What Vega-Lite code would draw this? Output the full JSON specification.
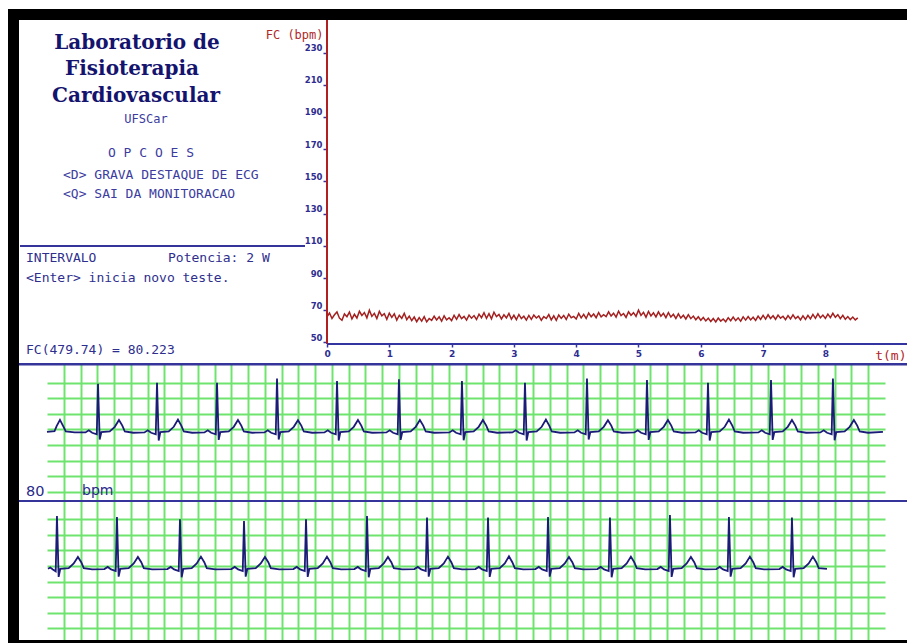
{
"$schema": "https://vega.github.io/schema/vega-lite/v6.json",
"background": "white",
"padding": {"left": 8, "top": 8, "right": 0, "bottom": 0},
"config": {"view": {"stroke": null}, "concat": {"spacing": 0}},
"datasets": {
"hr": [{"t":0,"fc":66.0},{"t":0.04,"fc":68.3},{"t":0.08,"fc":64.9},{"t":0.12,"fc":67.2},{"t":0.16,"fc":69.0},{"t":0.2,"fc":65.1},{"t":0.24,"fc":63.8},{"t":0.28,"fc":67.7},{"t":0.32,"fc":66.0},{"t":0.36,"fc":68.9},{"t":0.4,"fc":64.6},{"t":0.44,"fc":67.5},{"t":0.48,"fc":65.2},{"t":0.52,"fc":69.4},{"t":0.56,"fc":66.8},{"t":0.6,"fc":68.6},{"t":0.64,"fc":65.3},{"t":0.68,"fc":70.0},{"t":0.72,"fc":66.2},{"t":0.76,"fc":68.1},{"t":0.8,"fc":64.9},{"t":0.84,"fc":69.3},{"t":0.88,"fc":66.5},{"t":0.92,"fc":67.9},{"t":0.96,"fc":64.4},{"t":1.0,"fc":68.2},{"t":1.04,"fc":65.6},{"t":1.08,"fc":67.8},{"t":1.12,"fc":63.9},{"t":1.16,"fc":66.9},{"t":1.2,"fc":65.0},{"t":1.24,"fc":68.1},{"t":1.28,"fc":64.2},{"t":1.32,"fc":66.4},{"t":1.36,"fc":63.6},{"t":1.4,"fc":65.8},{"t":1.44,"fc":62.9},{"t":1.48,"fc":65.5},{"t":1.52,"fc":63.3},{"t":1.56,"fc":66.0},{"t":1.6,"fc":62.8},{"t":1.64,"fc":64.9},{"t":1.68,"fc":63.7},{"t":1.72,"fc":66.3},{"t":1.76,"fc":64.0},{"t":1.8,"fc":65.9},{"t":1.84,"fc":63.2},{"t":1.88,"fc":66.6},{"t":1.92,"fc":64.1},{"t":1.96,"fc":65.4},{"t":2.0,"fc":63.6},{"t":2.04,"fc":66.9},{"t":2.08,"fc":64.4},{"t":2.12,"fc":67.3},{"t":2.16,"fc":64.8},{"t":2.2,"fc":66.2},{"t":2.24,"fc":63.9},{"t":2.28,"fc":67.0},{"t":2.32,"fc":65.1},{"t":2.36,"fc":66.7},{"t":2.4,"fc":64.3},{"t":2.44,"fc":67.6},{"t":2.48,"fc":65.4},{"t":2.52,"fc":68.5},{"t":2.56,"fc":65.0},{"t":2.6,"fc":67.9},{"t":2.64,"fc":64.7},{"t":2.68,"fc":68.8},{"t":2.72,"fc":66.1},{"t":2.76,"fc":67.4},{"t":2.8,"fc":64.6},{"t":2.84,"fc":67.2},{"t":2.88,"fc":65.3},{"t":2.92,"fc":68.0},{"t":2.96,"fc":64.5},{"t":3.0,"fc":66.9},{"t":3.04,"fc":64.2},{"t":3.08,"fc":67.4},{"t":3.12,"fc":64.8},{"t":3.16,"fc":66.3},{"t":3.2,"fc":63.9},{"t":3.24,"fc":66.8},{"t":3.28,"fc":64.4},{"t":3.32,"fc":67.0},{"t":3.36,"fc":65.2},{"t":3.4,"fc":66.5},{"t":3.44,"fc":63.8},{"t":3.48,"fc":66.1},{"t":3.52,"fc":64.9},{"t":3.56,"fc":67.3},{"t":3.6,"fc":64.0},{"t":3.64,"fc":66.6},{"t":3.68,"fc":63.7},{"t":3.72,"fc":67.1},{"t":3.76,"fc":65.0},{"t":3.8,"fc":66.8},{"t":3.84,"fc":64.3},{"t":3.88,"fc":67.6},{"t":3.92,"fc":65.4},{"t":3.96,"fc":66.2},{"t":4.0,"fc":64.6},{"t":4.04,"fc":68.0},{"t":4.08,"fc":65.3},{"t":4.12,"fc":67.5},{"t":4.16,"fc":64.9},{"t":4.2,"fc":68.3},{"t":4.24,"fc":66.0},{"t":4.28,"fc":67.7},{"t":4.32,"fc":65.4},{"t":4.36,"fc":68.6},{"t":4.4,"fc":65.9},{"t":4.44,"fc":67.3},{"t":4.48,"fc":66.1},{"t":4.52,"fc":69.0},{"t":4.56,"fc":66.4},{"t":4.6,"fc":68.2},{"t":4.64,"fc":65.8},{"t":4.68,"fc":69.4},{"t":4.72,"fc":66.7},{"t":4.76,"fc":68.0},{"t":4.8,"fc":65.6},{"t":4.84,"fc":69.1},{"t":4.88,"fc":66.9},{"t":4.92,"fc":68.5},{"t":4.96,"fc":66.2},{"t":5.0,"fc":70.1},{"t":5.04,"fc":66.8},{"t":5.08,"fc":68.7},{"t":5.12,"fc":65.7},{"t":5.16,"fc":69.3},{"t":5.2,"fc":66.5},{"t":5.24,"fc":68.4},{"t":5.28,"fc":65.9},{"t":5.32,"fc":69.0},{"t":5.36,"fc":66.3},{"t":5.4,"fc":68.1},{"t":5.44,"fc":65.4},{"t":5.48,"fc":68.6},{"t":5.52,"fc":65.8},{"t":5.56,"fc":67.5},{"t":5.6,"fc":64.9},{"t":5.64,"fc":67.8},{"t":5.68,"fc":65.2},{"t":5.72,"fc":66.9},{"t":5.76,"fc":64.6},{"t":5.8,"fc":67.3},{"t":5.84,"fc":64.8},{"t":5.88,"fc":66.4},{"t":5.92,"fc":64.1},{"t":5.96,"fc":66.0},{"t":6.0,"fc":63.8},{"t":6.04,"fc":65.5},{"t":6.08,"fc":63.4},{"t":6.12,"fc":65.1},{"t":6.16,"fc":63.0},{"t":6.2,"fc":64.9},{"t":6.24,"fc":62.8},{"t":6.28,"fc":65.2},{"t":6.32,"fc":63.3},{"t":6.36,"fc":64.6},{"t":6.4,"fc":62.9},{"t":6.44,"fc":65.4},{"t":6.48,"fc":63.5},{"t":6.52,"fc":65.8},{"t":6.56,"fc":63.6},{"t":6.6,"fc":65.3},{"t":6.64,"fc":63.2},{"t":6.68,"fc":65.9},{"t":6.72,"fc":63.9},{"t":6.76,"fc":66.1},{"t":6.8,"fc":64.0},{"t":6.84,"fc":65.7},{"t":6.88,"fc":63.7},{"t":6.92,"fc":66.4},{"t":6.96,"fc":64.3},{"t":7.0,"fc":66.8},{"t":7.04,"fc":64.5},{"t":7.08,"fc":67.2},{"t":7.12,"fc":64.9},{"t":7.16,"fc":66.6},{"t":7.2,"fc":64.4},{"t":7.24,"fc":67.0},{"t":7.28,"fc":65.1},{"t":7.32,"fc":66.3},{"t":7.36,"fc":64.2},{"t":7.4,"fc":66.7},{"t":7.44,"fc":64.6},{"t":7.48,"fc":67.1},{"t":7.52,"fc":64.8},{"t":7.56,"fc":66.2},{"t":7.6,"fc":64.0},{"t":7.64,"fc":66.5},{"t":7.68,"fc":64.3},{"t":7.72,"fc":66.9},{"t":7.76,"fc":64.7},{"t":7.8,"fc":67.4},{"t":7.84,"fc":65.0},{"t":7.88,"fc":67.8},{"t":7.92,"fc":65.3},{"t":7.96,"fc":67.0},{"t":8.0,"fc":64.9},{"t":8.04,"fc":67.6},{"t":8.08,"fc":65.4},{"t":8.12,"fc":68.1},{"t":8.16,"fc":65.6},{"t":8.2,"fc":67.3},{"t":8.24,"fc":64.8},{"t":8.28,"fc":66.9},{"t":8.32,"fc":64.4},{"t":8.36,"fc":66.1},{"t":8.4,"fc":64.2},{"t":8.44,"fc":65.8},{"t":8.48,"fc":64.0},{"t":8.52,"fc":65.3}],
"ecg1": [{"t":0,"mv":-0.08},{"t":0.09,"mv":-0.06},{"t":0.115,"mv":0.1},{"t":0.155,"mv":0.3},{"t":0.19,"mv":0.12},{"t":0.225,"mv":-0.07},{"t":0.33,"mv":-0.1},
{"t":0.459,"mv":-0.1},{"t":0.499,"mv":-0.03},{"t":0.539,"mv":-0.11},{"t":0.594,"mv":-0.16},{"t":0.609,"mv":1.46},{"t":0.629,"mv":-0.33},{"t":0.649,"mv":-0.09},{"t":0.749,"mv":-0.07},{"t":0.809,"mv":0.08},{"t":0.859,"mv":0.3},{"t":0.899,"mv":0.12},{"t":0.929,"mv":-0.07},{"t":1.029,"mv":-0.11},
{"t":1.163,"mv":-0.1},{"t":1.203,"mv":-0.03},{"t":1.243,"mv":-0.11},{"t":1.298,"mv":-0.16},{"t":1.313,"mv":1.49},{"t":1.333,"mv":-0.36},{"t":1.353,"mv":-0.09},{"t":1.453,"mv":-0.07},{"t":1.513,"mv":0.08},{"t":1.563,"mv":0.31},{"t":1.603,"mv":0.12},{"t":1.633,"mv":-0.07},{"t":1.733,"mv":-0.11},
{"t":1.879,"mv":-0.1},{"t":1.919,"mv":-0.03},{"t":1.959,"mv":-0.11},{"t":2.014,"mv":-0.16},{"t":2.029,"mv":1.49},{"t":2.049,"mv":-0.34},{"t":2.069,"mv":-0.09},{"t":2.169,"mv":-0.07},{"t":2.229,"mv":0.08},{"t":2.279,"mv":0.3},{"t":2.319,"mv":0.12},{"t":2.349,"mv":-0.07},{"t":2.449,"mv":-0.11},
{"t":2.595,"mv":-0.1},{"t":2.635,"mv":-0.03},{"t":2.675,"mv":-0.11},{"t":2.73,"mv":-0.16},{"t":2.745,"mv":1.63},{"t":2.765,"mv":-0.33},{"t":2.785,"mv":-0.09},{"t":2.885,"mv":-0.07},{"t":2.945,"mv":0.08},{"t":2.995,"mv":0.29},{"t":3.035,"mv":0.12},{"t":3.065,"mv":-0.07},{"t":3.165,"mv":-0.11},
{"t":3.311,"mv":-0.1},{"t":3.351,"mv":-0.03},{"t":3.391,"mv":-0.11},{"t":3.446,"mv":-0.16},{"t":3.461,"mv":1.55},{"t":3.481,"mv":-0.36},{"t":3.501,"mv":-0.09},{"t":3.601,"mv":-0.07},{"t":3.661,"mv":0.08},{"t":3.711,"mv":0.3},{"t":3.751,"mv":0.12},{"t":3.781,"mv":-0.07},{"t":3.881,"mv":-0.11},
{"t":4.05,"mv":-0.1},{"t":4.09,"mv":-0.03},{"t":4.13,"mv":-0.11},{"t":4.185,"mv":-0.16},{"t":4.2,"mv":1.6},{"t":4.22,"mv":-0.34},{"t":4.24,"mv":-0.09},{"t":4.34,"mv":-0.07},{"t":4.4,"mv":0.08},{"t":4.45,"mv":0.3},{"t":4.49,"mv":0.12},{"t":4.52,"mv":-0.07},{"t":4.62,"mv":-0.11},
{"t":4.802,"mv":-0.1},{"t":4.842,"mv":-0.03},{"t":4.882,"mv":-0.11},{"t":4.937,"mv":-0.16},{"t":4.952,"mv":1.55},{"t":4.972,"mv":-0.35},{"t":4.992,"mv":-0.09},{"t":5.092,"mv":-0.07},{"t":5.152,"mv":0.08},{"t":5.202,"mv":0.3},{"t":5.242,"mv":0.12},{"t":5.272,"mv":-0.07},{"t":5.372,"mv":-0.11},
{"t":5.554,"mv":-0.1},{"t":5.594,"mv":-0.03},{"t":5.634,"mv":-0.11},{"t":5.689,"mv":-0.16},{"t":5.704,"mv":1.49},{"t":5.724,"mv":-0.36},{"t":5.744,"mv":-0.09},{"t":5.844,"mv":-0.07},{"t":5.904,"mv":0.08},{"t":5.954,"mv":0.31},{"t":5.994,"mv":0.12},{"t":6.024,"mv":-0.07},{"t":6.124,"mv":-0.11},
{"t":6.294,"mv":-0.1},{"t":6.334,"mv":-0.03},{"t":6.374,"mv":-0.11},{"t":6.429,"mv":-0.16},{"t":6.444,"mv":1.63},{"t":6.464,"mv":-0.33},{"t":6.484,"mv":-0.09},{"t":6.584,"mv":-0.07},{"t":6.644,"mv":0.08},{"t":6.694,"mv":0.29},{"t":6.734,"mv":0.12},{"t":6.764,"mv":-0.07},{"t":6.864,"mv":-0.11},
{"t":7.01,"mv":-0.1},{"t":7.05,"mv":-0.03},{"t":7.09,"mv":-0.11},{"t":7.145,"mv":-0.16},{"t":7.16,"mv":1.58},{"t":7.18,"mv":-0.34},{"t":7.2,"mv":-0.09},{"t":7.3,"mv":-0.07},{"t":7.36,"mv":0.08},{"t":7.41,"mv":0.3},{"t":7.45,"mv":0.12},{"t":7.48,"mv":-0.07},{"t":7.58,"mv":-0.11},
{"t":7.738,"mv":-0.1},{"t":7.778,"mv":-0.03},{"t":7.818,"mv":-0.11},{"t":7.873,"mv":-0.16},{"t":7.888,"mv":1.49},{"t":7.908,"mv":-0.36},{"t":7.928,"mv":-0.09},{"t":8.028,"mv":-0.07},{"t":8.088,"mv":0.08},{"t":8.138,"mv":0.31},{"t":8.178,"mv":0.12},{"t":8.208,"mv":-0.07},{"t":8.308,"mv":-0.11},
{"t":8.49,"mv":-0.1},{"t":8.53,"mv":-0.03},{"t":8.57,"mv":-0.11},{"t":8.625,"mv":-0.16},{"t":8.64,"mv":1.58},{"t":8.66,"mv":-0.34},{"t":8.68,"mv":-0.09},{"t":8.78,"mv":-0.07},{"t":8.84,"mv":0.08},{"t":8.89,"mv":0.3},{"t":8.93,"mv":0.12},{"t":8.96,"mv":-0.07},{"t":9.06,"mv":-0.11},
{"t":9.229,"mv":-0.1},{"t":9.269,"mv":-0.03},{"t":9.309,"mv":-0.11},{"t":9.364,"mv":-0.16},{"t":9.379,"mv":1.63},{"t":9.399,"mv":-0.35},{"t":9.419,"mv":-0.09},{"t":9.519,"mv":-0.07},{"t":9.579,"mv":0.08},{"t":9.629,"mv":0.3},{"t":9.669,"mv":0.12},{"t":9.699,"mv":-0.07},{"t":9.799,"mv":-0.11},{"t":9.976,"mv":-0.08}],
"ecg2": [{"t":0.012,"mv":-0.09},{"t":0.04,"mv":-0.05},{"t":0.07,"mv":-0.11},{"t":0.104,"mv":-0.17},{"t":0.119,"mv":1.6},{"t":0.139,"mv":-0.35},{"t":0.159,"mv":-0.09},{"t":0.259,"mv":-0.07},{"t":0.319,"mv":0.08},{"t":0.369,"mv":0.29},{"t":0.409,"mv":0.12},{"t":0.439,"mv":-0.07},{"t":0.539,"mv":-0.11},
{"t":0.685,"mv":-0.1},{"t":0.725,"mv":-0.03},{"t":0.765,"mv":-0.11},{"t":0.82,"mv":-0.16},{"t":0.835,"mv":1.57},{"t":0.855,"mv":-0.34},{"t":0.875,"mv":-0.09},{"t":0.975,"mv":-0.07},{"t":1.035,"mv":0.08},{"t":1.085,"mv":0.29},{"t":1.125,"mv":0.12},{"t":1.155,"mv":-0.07},{"t":1.255,"mv":-0.11},
{"t":1.437,"mv":-0.1},{"t":1.477,"mv":-0.03},{"t":1.517,"mv":-0.11},{"t":1.572,"mv":-0.16},{"t":1.587,"mv":1.5},{"t":1.607,"mv":-0.36},{"t":1.627,"mv":-0.09},{"t":1.727,"mv":-0.07},{"t":1.787,"mv":0.08},{"t":1.837,"mv":0.3},{"t":1.877,"mv":0.12},{"t":1.907,"mv":-0.07},{"t":2.007,"mv":-0.11},
{"t":2.201,"mv":-0.1},{"t":2.241,"mv":-0.03},{"t":2.281,"mv":-0.11},{"t":2.336,"mv":-0.16},{"t":2.351,"mv":1.44},{"t":2.371,"mv":-0.34},{"t":2.391,"mv":-0.09},{"t":2.491,"mv":-0.07},{"t":2.551,"mv":0.08},{"t":2.601,"mv":0.29},{"t":2.641,"mv":0.12},{"t":2.671,"mv":-0.07},{"t":2.771,"mv":-0.11},
{"t":2.941,"mv":-0.1},{"t":2.981,"mv":-0.03},{"t":3.021,"mv":-0.11},{"t":3.076,"mv":-0.16},{"t":3.091,"mv":1.5},{"t":3.111,"mv":-0.35},{"t":3.131,"mv":-0.09},{"t":3.231,"mv":-0.07},{"t":3.291,"mv":0.08},{"t":3.341,"mv":0.3},{"t":3.381,"mv":0.12},{"t":3.411,"mv":-0.07},{"t":3.511,"mv":-0.11},
{"t":3.669,"mv":-0.1},{"t":3.709,"mv":-0.03},{"t":3.749,"mv":-0.11},{"t":3.804,"mv":-0.16},{"t":3.819,"mv":1.6},{"t":3.839,"mv":-0.36},{"t":3.859,"mv":-0.09},{"t":3.959,"mv":-0.07},{"t":4.019,"mv":0.08},{"t":4.069,"mv":0.29},{"t":4.109,"mv":0.12},{"t":4.139,"mv":-0.07},{"t":4.239,"mv":-0.11},
{"t":4.385,"mv":-0.1},{"t":4.425,"mv":-0.03},{"t":4.465,"mv":-0.11},{"t":4.52,"mv":-0.16},{"t":4.535,"mv":1.55},{"t":4.555,"mv":-0.34},{"t":4.575,"mv":-0.09},{"t":4.675,"mv":-0.07},{"t":4.735,"mv":0.08},{"t":4.785,"mv":0.3},{"t":4.825,"mv":0.12},{"t":4.855,"mv":-0.07},{"t":4.955,"mv":-0.11},
{"t":5.113,"mv":-0.1},{"t":5.153,"mv":-0.03},{"t":5.193,"mv":-0.11},{"t":5.248,"mv":-0.16},{"t":5.263,"mv":1.55},{"t":5.283,"mv":-0.35},{"t":5.303,"mv":-0.09},{"t":5.403,"mv":-0.07},{"t":5.463,"mv":0.08},{"t":5.513,"mv":0.31},{"t":5.553,"mv":0.12},{"t":5.583,"mv":-0.07},{"t":5.683,"mv":-0.11},
{"t":5.829,"mv":-0.1},{"t":5.869,"mv":-0.03},{"t":5.909,"mv":-0.11},{"t":5.964,"mv":-0.16},{"t":5.979,"mv":1.57},{"t":5.999,"mv":-0.34},{"t":6.019,"mv":-0.09},{"t":6.119,"mv":-0.07},{"t":6.179,"mv":0.08},{"t":6.229,"mv":0.29},{"t":6.269,"mv":0.12},{"t":6.299,"mv":-0.07},{"t":6.399,"mv":-0.11},
{"t":6.568,"mv":-0.1},{"t":6.608,"mv":-0.03},{"t":6.648,"mv":-0.11},{"t":6.703,"mv":-0.16},{"t":6.718,"mv":1.55},{"t":6.738,"mv":-0.36},{"t":6.758,"mv":-0.09},{"t":6.858,"mv":-0.07},{"t":6.918,"mv":0.08},{"t":6.968,"mv":0.3},{"t":7.008,"mv":0.12},{"t":7.038,"mv":-0.07},{"t":7.138,"mv":-0.11},
{"t":7.284,"mv":-0.1},{"t":7.324,"mv":-0.03},{"t":7.364,"mv":-0.11},{"t":7.419,"mv":-0.16},{"t":7.434,"mv":1.63},{"t":7.454,"mv":-0.35},{"t":7.474,"mv":-0.09},{"t":7.574,"mv":-0.07},{"t":7.634,"mv":0.08},{"t":7.684,"mv":0.29},{"t":7.724,"mv":0.12},{"t":7.754,"mv":-0.07},{"t":7.854,"mv":-0.11},
{"t":7.988,"mv":-0.1},{"t":8.028,"mv":-0.03},{"t":8.068,"mv":-0.11},{"t":8.123,"mv":-0.16},{"t":8.138,"mv":1.57},{"t":8.158,"mv":-0.34},{"t":8.178,"mv":-0.09},{"t":8.278,"mv":-0.07},{"t":8.338,"mv":0.08},{"t":8.388,"mv":0.3},{"t":8.428,"mv":0.12},{"t":8.458,"mv":-0.07},{"t":8.558,"mv":-0.11},
{"t":8.74,"mv":-0.1},{"t":8.78,"mv":-0.03},{"t":8.82,"mv":-0.11},{"t":8.875,"mv":-0.16},{"t":8.89,"mv":1.55},{"t":8.91,"mv":-0.36},{"t":8.93,"mv":-0.09},{"t":9.03,"mv":-0.07},{"t":9.09,"mv":0.08},{"t":9.14,"mv":0.3},{"t":9.18,"mv":0.12},{"t":9.21,"mv":-0.07},{"t":9.308,"mv":-0.09}]
},
"bounds": "flush",
"spacing": 0,
"hconcat": [
{"width": 11, "height": 635, "view": {"fill": "black", "stroke": null}, "data": {"values": [{}]}, "mark": {"type": "text", "text": ""}, "encoding": {}},
{"vconcat": [
 {"width": 888, "height": 11, "view": {"fill": "black", "stroke": null}, "data": {"values": [{}]}, "mark": {"type": "text", "text": ""}, "encoding": {}},
 {"width": 888, "height": 343,
  "resolve": {"scale": {"x": "independent", "y": "independent"}, "axis": {"x": "independent", "y": "independent"}},
  "layer": [
   {"layer": [
    {"data": {"name": "hr"}, "mark": {"type": "line", "color": "#a32020", "strokeWidth": 1.5},
     "encoding": {
      "x": {"field": "t", "type": "quantitative", "scale": {"domain": [-4.944, 9.31], "nice": false, "zero": false},
        "axis": {"orient": "bottom", "values": [0,1,2,3,4,5,6,7,8], "tickCount": 20, "format": "d", "offset": -19, "grid": false, "domain": false, "tickColor": "#3434a0", "tickSize": 3, "tickWidth": 1.5, "labelColor": "#2e2e90", "labelFont": "DejaVu Sans", "labelFontSize": 9, "labelFontWeight": "bold", "labelPadding": 2, "labelFlush": false, "labelOverlap": false,
          "title": "t(m)", "titleColor": "#b02828", "titleFont": "DejaVu Sans Mono", "titleFontSize": 13, "titleFontWeight": "normal", "titleX": 887, "titleY": 11, "titleAlign": "right", "titleBaseline": "middle", "titleAnchor": null}},
      "y": {"field": "fc", "type": "quantitative", "scale": {"domain": [37.27, 250.2], "nice": false, "zero": false},
        "axis": {"orient": "left", "offset": -308, "values": [50,70,90,110,130,150,170,190,210,230], "tickCount": 20, "format": "d", "grid": false, "domain": false, "tickColor": "#3434a0", "tickSize": 4, "tickWidth": 1.5, "labelColor": "#2e2e90", "labelFont": "DejaVu Sans", "labelFontSize": 8.5, "labelFontWeight": "bold", "labelPadding": 1, "labelBaseline": "bottom", "labelFlush": false, "labelOverlap": false,
          "title": "FC (bpm)", "titleAngle": 0, "titleX": -4, "titleY": 14, "titleAlign": "right", "titleBaseline": "middle", "titleColor": "#b02828", "titleFont": "DejaVu Sans Mono", "titleFontSize": 12, "titleFontWeight": "normal"}}
     }},
    {"data": {"values": [{}]}, "mark": {"type": "rule", "color": "#b02020", "strokeWidth": 2},
     "encoding": {"x": {"datum": 0, "type": "quantitative"}, "y": {"datum": 49.07, "type": "quantitative"}, "y2": {"datum": 250.2}}},
    {"data": {"values": [{}]}, "mark": {"type": "rule", "color": "#3434a0", "strokeWidth": 2},
     "encoding": {"x": {"datum": 0, "type": "quantitative"}, "x2": {"datum": 9.31}, "y": {"datum": 49.07, "type": "quantitative"}}}
   ]},
   {"data": {"values": [{}]},
    "layer": [
    {"mark": {"type": "text", "text": "Laboratorio de", "font": "DejaVu Serif", "fontSize": 20, "fontWeight": "bold", "color": "#14146e", "align": "center", "baseline": "middle"},
     "encoding": {"x": {"datum": 118, "type": "quantitative", "scale": {"domain": [0, 888], "nice": false}, "axis": null}, "y": {"datum": 23, "type": "quantitative", "scale": {"domain": [0, 343], "nice": false, "reverse": true}, "axis": null}}},
    {"mark": {"type": "text", "text": "Fisioterapia", "font": "DejaVu Serif", "fontSize": 20, "fontWeight": "bold", "color": "#14146e", "align": "center", "baseline": "middle"},
     "encoding": {"x": {"datum": 113, "type": "quantitative", "scale": {"domain": [0, 888], "nice": false}, "axis": null}, "y": {"datum": 49, "type": "quantitative", "scale": {"domain": [0, 343], "nice": false, "reverse": true}, "axis": null}}},
    {"mark": {"type": "text", "text": "Cardiovascular", "font": "DejaVu Serif", "fontSize": 20, "fontWeight": "bold", "color": "#14146e", "align": "center", "baseline": "middle"},
     "encoding": {"x": {"datum": 117, "type": "quantitative", "scale": {"domain": [0, 888], "nice": false}, "axis": null}, "y": {"datum": 76, "type": "quantitative", "scale": {"domain": [0, 343], "nice": false, "reverse": true}, "axis": null}}},
    {"mark": {"type": "text", "text": "UFSCar", "font": "DejaVu Sans Mono", "fontSize": 12, "color": "#3c3ca0", "align": "center", "baseline": "middle"},
     "encoding": {"x": {"datum": 127, "type": "quantitative", "scale": {"domain": [0, 888], "nice": false}, "axis": null}, "y": {"datum": 99, "type": "quantitative", "scale": {"domain": [0, 343], "nice": false, "reverse": true}, "axis": null}}},
    {"mark": {"type": "text", "text": "O P C O E S", "font": "DejaVu Sans Mono", "fontSize": 13, "color": "#3c3ca0", "align": "center", "baseline": "middle"},
     "encoding": {"x": {"datum": 132, "type": "quantitative", "scale": {"domain": [0, 888], "nice": false}, "axis": null}, "y": {"datum": 133, "type": "quantitative", "scale": {"domain": [0, 343], "nice": false, "reverse": true}, "axis": null}}},
    {"mark": {"type": "text", "text": "<D> GRAVA DESTAQUE DE ECG", "font": "DejaVu Sans Mono", "fontSize": 13, "color": "#3c3ca0", "align": "left", "baseline": "middle"},
     "encoding": {"x": {"datum": 44, "type": "quantitative", "scale": {"domain": [0, 888], "nice": false}, "axis": null}, "y": {"datum": 155, "type": "quantitative", "scale": {"domain": [0, 343], "nice": false, "reverse": true}, "axis": null}}},
    {"mark": {"type": "text", "text": "<Q> SAI DA MONITORACAO", "font": "DejaVu Sans Mono", "fontSize": 13, "color": "#3c3ca0", "align": "left", "baseline": "middle"},
     "encoding": {"x": {"datum": 44, "type": "quantitative", "scale": {"domain": [0, 888], "nice": false}, "axis": null}, "y": {"datum": 174, "type": "quantitative", "scale": {"domain": [0, 343], "nice": false, "reverse": true}, "axis": null}}},
    {"mark": {"type": "rule", "color": "#34349a", "strokeWidth": 2},
     "encoding": {"x": {"datum": 1, "type": "quantitative", "scale": {"domain": [0, 888], "nice": false}, "axis": null}, "x2": {"datum": 286}, "y": {"datum": 226, "type": "quantitative", "scale": {"domain": [0, 343], "nice": false, "reverse": true}, "axis": null}}},
    {"mark": {"type": "text", "text": "INTERVALO", "font": "DejaVu Sans Mono", "fontSize": 13, "color": "#2e2e8e", "align": "left", "baseline": "middle"},
     "encoding": {"x": {"datum": 7, "type": "quantitative", "scale": {"domain": [0, 888], "nice": false}, "axis": null}, "y": {"datum": 238, "type": "quantitative", "scale": {"domain": [0, 343], "nice": false, "reverse": true}, "axis": null}}},
    {"mark": {"type": "text", "text": "Potencia: 2 W", "font": "DejaVu Sans Mono", "fontSize": 13, "color": "#2e2e8e", "align": "left", "baseline": "middle"},
     "encoding": {"x": {"datum": 149, "type": "quantitative", "scale": {"domain": [0, 888], "nice": false}, "axis": null}, "y": {"datum": 238, "type": "quantitative", "scale": {"domain": [0, 343], "nice": false, "reverse": true}, "axis": null}}},
    {"mark": {"type": "text", "text": "<Enter> inicia novo teste.", "font": "DejaVu Sans Mono", "fontSize": 13, "color": "#2e2e8e", "align": "left", "baseline": "middle"},
     "encoding": {"x": {"datum": 7, "type": "quantitative", "scale": {"domain": [0, 888], "nice": false}, "axis": null}, "y": {"datum": 258, "type": "quantitative", "scale": {"domain": [0, 343], "nice": false, "reverse": true}, "axis": null}}},
    {"mark": {"type": "text", "text": "FC(479.74) = 80.223", "font": "DejaVu Sans Mono", "fontSize": 13, "color": "#2e2e8e", "align": "left", "baseline": "middle"},
     "encoding": {"x": {"datum": 7, "type": "quantitative", "scale": {"domain": [0, 888], "nice": false}, "axis": null}, "y": {"datum": 330, "type": "quantitative", "scale": {"domain": [0, 343], "nice": false, "reverse": true}, "axis": null}}}
   ]}
  ]},
 {"width": 888, "height": 138,
  "layer": [
   {"data": {"name": "ecg1"}, "mark": {"type": "line", "color": "#1b1b78", "strokeWidth": 1.8},
    "encoding": {
     "x": {"field": "t", "type": "quantitative", "scale": {"domain": [-0.334, 10.263], "nice": false, "zero": false},
       "axis": {"values": [0.2,0.4,0.6,0.8,1.0,1.2,1.4,1.6,1.8,2.0,2.2,2.4,2.6,2.8,3.0,3.2,3.4,3.6,3.8,4.0,4.2,4.4,4.6,4.8,5.0,5.2,5.4,5.6,5.8,6.0,6.2,6.4,6.6,6.8,7.0,7.2,7.4,7.6,7.8,8.0,8.2,8.4,8.6,8.8,9.0,9.2,9.4,9.6,9.8], "tickCount": 100, "grid": true, "gridColor": "#6ee46e", "gridWidth": 2, "labels": false, "ticks": false, "domain": false, "title": null}},
     "y": {"field": "mv", "type": "quantitative", "scale": {"domain": [-2.298, 2.125], "nice": false, "zero": false},
       "axis": {"orient": "left", "offset": -28, "values": [-2,-1.5,-1,-0.5,0,0.5,1,1.5], "tickCount": 20, "grid": false, "ticks": true, "tickSize": -838, "tickColor": "#6ee46e", "tickWidth": 2, "labels": false, "domain": false, "title": null, "zindex": 0}}
    }},
   {"data": {"values": [{}]}, "mark": {"type": "rule", "color": "#34349a", "strokeWidth": 2.5},
    "encoding": {"x": {"datum": -0.334, "type": "quantitative"}, "x2": {"datum": 10.263}, "y": {"datum": 2.083, "type": "quantitative"}}},
   {"data": {"values": [{}]}, "mark": {"type": "text", "text": "80", "font": "DejaVu Sans", "fontSize": 14.5, "color": "#2a2a8a", "align": "left", "baseline": "middle"},
    "encoding": {"x": {"datum": -0.251, "type": "quantitative"}, "y": {"datum": -2.0, "type": "quantitative"}}},
   {"data": {"values": [{}]}, "mark": {"type": "text", "text": "bpm", "font": "DejaVu Sans", "fontSize": 14, "color": "#2a2a8a", "align": "left", "baseline": "middle"},
    "encoding": {"x": {"datum": 0.418, "type": "quantitative"}, "y": {"datum": -1.98, "type": "quantitative"}}}
  ]},
 {"width": 888, "height": 139,
  "layer": [
   {"data": {"name": "ecg2"}, "mark": {"type": "line", "color": "#1b1b78", "strokeWidth": 1.8},
    "encoding": {
     "x": {"field": "t", "type": "quantitative", "scale": {"domain": [-0.334, 10.263], "nice": false, "zero": false},
       "axis": {"values": [0.2,0.4,0.6,0.8,1.0,1.2,1.4,1.6,1.8,2.0,2.2,2.4,2.6,2.8,3.0,3.2,3.4,3.6,3.8,4.0,4.2,4.4,4.6,4.8,5.0,5.2,5.4,5.6,5.8,6.0,6.2,6.4,6.6,6.8,7.0,7.2,7.4,7.6,7.8,8.0,8.2,8.4,8.6,8.8,9.0,9.2,9.4,9.6,9.8], "tickCount": 100, "grid": true, "gridColor": "#6ee46e", "gridWidth": 2, "labels": false, "ticks": false, "domain": false, "title": null}},
     "y": {"field": "mv", "type": "quantitative", "scale": {"domain": [-2.372, 2.083], "nice": false, "zero": false},
       "axis": {"orient": "left", "offset": -28, "values": [-2,-1.5,-1,-0.5,0,0.5,1,1.5], "tickCount": 20, "grid": false, "ticks": true, "tickSize": -838, "tickColor": "#6ee46e", "tickWidth": 2, "labels": false, "domain": false, "title": null, "zindex": 0}}
    }},
   {"data": {"values": [{}]}, "mark": {"type": "rule", "color": "#34349a", "strokeWidth": 2},
    "encoding": {"x": {"datum": -0.334, "type": "quantitative"}, "x2": {"datum": 10.263}, "y": {"datum": 2.083, "type": "quantitative"}}}
  ]},
 {"width": 888, "height": 4, "view": {"fill": "black", "stroke": null}, "data": {"values": [{}]}, "mark": {"type": "text", "text": ""}, "encoding": {}}
], "spacing": 0, "bounds": "flush"}
]
}
